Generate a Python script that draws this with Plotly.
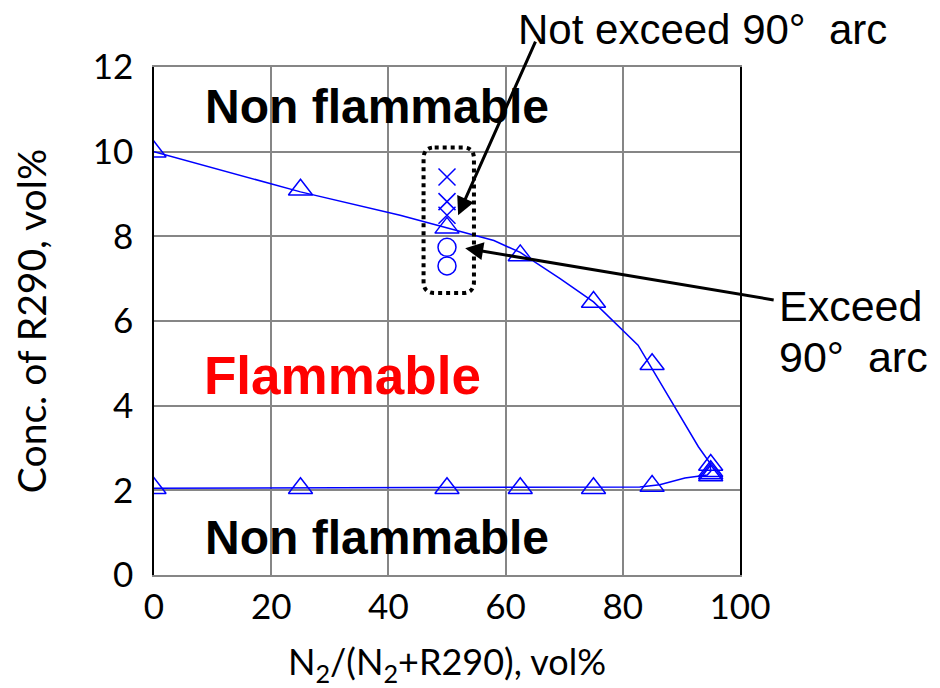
import plotly.graph_objects as go

# ---- data ----
# upper-limit triangles
upper_x = [0, 25, 50, 62.5, 75, 85, 95, 95, 95]
upper_y = [10.0, 9.1, 8.2, 7.55, 6.45, 4.98, 2.6, 2.45, 2.35]
# lower-limit triangles
lower_x = [0, 25, 50, 62.5, 75, 85, 95]
lower_y = [2.05, 2.05, 2.05, 2.05, 2.05, 2.1, 2.4]
# fitted boundary curve
curve_x = [0, 25, 42, 50, 58, 62.5, 69.3, 75, 82.6, 92.9, 94.9, 95, 94.4, 90.6, 86.3, 82.9, 0]
curve_y = [10.0, 9.05, 8.5, 8.2, 7.9, 7.62, 7.0, 6.45, 5.43, 3.03, 2.64, 2.45, 2.36, 2.29, 2.13, 2.08, 2.05]
# tests at 50 vol%: not exceeding 90 deg arc (x) / exceeding (o)
notexc_x = [50, 50, 50]
notexc_y = [9.4, 8.82, 8.5]
exc_x = [50, 50]
exc_y = [7.74, 7.3]

xticks = [0, 20, 40, 60, 80, 100]
yticks = [0, 2, 4, 6, 8, 10, 12]

BLUE = "#0000FF"
SANS = "Lato, 'Open Sans', sans-serif"
TICKFONT = dict(family=SANS, size=35, color="black")
ARIAL = "'Liberation Sans', Arial, sans-serif"

fig = go.Figure()
fig.add_trace(go.Scatter(x=curve_x, y=curve_y, mode="lines",
                         line=dict(color=BLUE, width=1.5), hoverinfo="skip"))
fig.add_trace(go.Scatter(x=upper_x, y=upper_y, mode="markers",
                         marker=dict(symbol="triangle-up-open", size=21, color=BLUE,
                                     line=dict(width=1.5, color=BLUE))))
fig.add_trace(go.Scatter(x=lower_x, y=lower_y, mode="markers",
                         marker=dict(symbol="triangle-up-open", size=21, color=BLUE,
                                     line=dict(width=1.5, color=BLUE))))
fig.add_trace(go.Scatter(x=notexc_x, y=notexc_y, mode="markers",
                         marker=dict(symbol="x-thin-open", size=17, color=BLUE,
                                     line=dict(width=1.5, color=BLUE))))
fig.add_trace(go.Scatter(x=exc_x, y=exc_y, mode="markers",
                         marker=dict(symbol="circle-open", size=18, color=BLUE,
                                     line=dict(width=1.5, color=BLUE))))

# dotted rounded box around the 50 vol% tests
x0, x1, y0, y1 = 46.0, 54.6, 6.66, 10.1
rx, ry = 1.9, 0.27
path = (f"M {x0+rx},{y1} L {x1-rx},{y1} Q {x1},{y1} {x1},{y1-ry} "
        f"L {x1},{y0+ry} Q {x1},{y0} {x1-rx},{y0} L {x0+rx},{y0} "
        f"Q {x0},{y0} {x0},{y0+ry} L {x0},{y1-ry} Q {x0},{y1} {x0+rx},{y1} Z")
fig.add_shape(type="path", path=path, xref="x", yref="y",
              line=dict(color="black", width=4, dash="dot"))

fig.add_annotation(x=51.9, y=8.5, ax=78, ay=-175, text="", showarrow=True, arrowhead=2,
                   arrowsize=1.2, arrowwidth=3, arrowcolor="black")
fig.add_annotation(x=53.1, y=7.72, ax=310, ay=52, text="", showarrow=True, arrowhead=2,
                   arrowsize=1.2, arrowwidth=3, arrowcolor="black")

# the page body has an 8px margin, so the figure is drawn 8px in from the window corner
OFF = 8
W, H = 940 - OFF, 688 - OFF
# plot area in window pixels: left 154, right 740, top 67, bottom 575
PL, PR, PT, PB = 154, 740, 67, 575
L, T = PL - OFF, PT - OFF
R, B = W - (PR - OFF), H - (PB - OFF)
PW, PH = PR - PL, PB - PT

def ptxt(xp, yp, s, size, color="black", bold=False, xanchor="left"):
    fig.add_annotation(x=(xp - PL) / PW, y=(PB - yp) / PH, xref="paper", yref="paper",
                       text=f"<b>{s}</b>" if bold else s, showarrow=False,
                       xanchor=xanchor, yanchor="middle",
                       font=dict(family=ARIAL, size=size, color=color))

ptxt(377, 107, "Non flammable", 48, bold=True, xanchor="center")
ptxt(377, 537, "Non flammable", 48, bold=True, xanchor="center")
ptxt(342, 375, "Flammable", 53, color="#FF0000", bold=True, xanchor="center")
ptxt(516, 30, "Not exceed 90°\u00a0\u00a0arc", 42)
ptxt(777, 306, "Exceed", 43)
ptxt(777, 357, "90°\u00a0\u00a0arc", 43)

fig.update_layout(
    width=W, height=H,
    margin=dict(l=L, r=R, t=T, b=B),
    paper_bgcolor="white", plot_bgcolor="white",
    showlegend=False,
    xaxis=dict(range=[0, 100], tickvals=xticks, ticktext=[str(v) for v in xticks],
               showgrid=True, gridcolor="#868686", gridwidth=1.5, automargin=False,
               showline=True, linecolor="#868686", linewidth=1.5, mirror=True,
               zeroline=False, ticks="", tickfont=TICKFONT, ticklabelstandoff=0,
               title=dict(text="N<sub>2</sub>/(N<sub>2</sub>+R290), vol%",
                          font=dict(family=SANS, size=36, color="black"),
                          standoff=26)),
    yaxis=dict(range=[0, 12], tickvals=yticks, ticktext=[str(v) for v in yticks],
               showgrid=True, gridcolor="#868686", gridwidth=1.5, automargin=False,
               showline=True, linecolor="black", linewidth=1.5, mirror=True,
               zeroline=False, ticks="", tickfont=TICKFONT, ticklabelstandoff=12,
               title=dict(text="Conc. of R290, vol%",
                          font=dict(family=SANS, size=39, color="black"),
                          standoff=36)),
)

fig.write_html("out.html")
